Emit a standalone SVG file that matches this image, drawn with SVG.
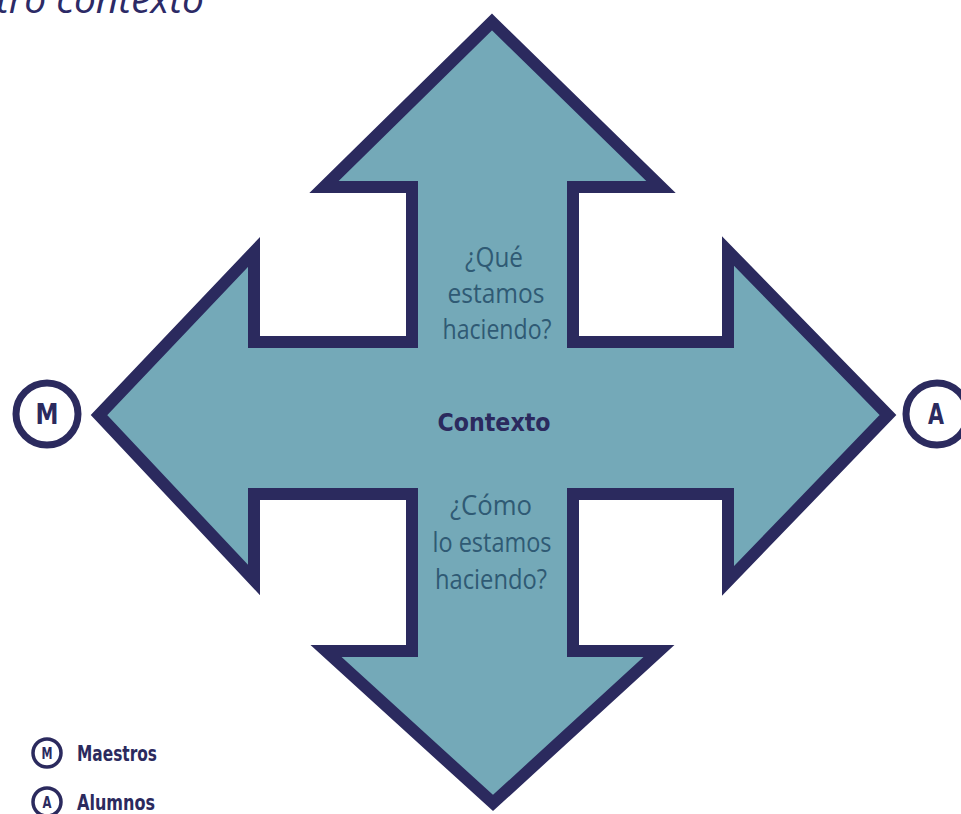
<svg xmlns="http://www.w3.org/2000/svg" width="961" height="814" viewBox="0 0 961 814">
<style>
.arrow{fill:#74a9b8;stroke:#2b2a5e;stroke-width:12;stroke-linejoin:miter;stroke-miterlimit:10}
.q{font-family:"Open Sans","Noto Sans",sans-serif;font-size:27px;fill:#2f5a74;text-anchor:middle}
.b{font-family:"DejaVu Sans Condensed","DejaVu Sans",sans-serif;font-weight:bold;fill:#2b2a5e;text-anchor:middle}
.ring{fill:#ffffff;stroke:#2b2a5e}
.leg{font-family:"DejaVu Sans Condensed","DejaVu Sans",sans-serif;font-weight:bold;fill:#2b2a5e;font-size:21px}
</style>
<rect width="961" height="814" fill="#ffffff"/>
<text id="title" x="-4" y="13" font-family="'Open Sans','Noto Sans',sans-serif" font-style="italic" font-size="38" fill="#2c2a66" textLength="208" lengthAdjust="spacingAndGlyphs">tro contexto</text>
<g id="connectors"></g>
<g id="cross">
<polygon class="arrow" points="492,22 661,187 573,187 573,342 728,342 728,251 888,415 728,581 728,494 573,494 573,651 659,651 493,803 326,651 412,651 412,494 254,494 254,580 99,415 254,252 254,342 412,342 412,187 324,187"/>
</g>
<g id="top-label">
<text class="q" x="494" y="267" textLength="58" lengthAdjust="spacingAndGlyphs">¿Qué</text>
<text class="q" x="496" y="303" textLength="97" lengthAdjust="spacingAndGlyphs">estamos</text>
<text class="q" x="497" y="339" textLength="109" lengthAdjust="spacingAndGlyphs">haciendo?</text>
</g>
<g id="center-label">
<text class="b" x="494" y="431" font-size="24" textLength="113" lengthAdjust="spacingAndGlyphs">Contexto</text>
</g>
<g id="bottom-label">
<text class="q" x="491" y="515" textLength="82" lengthAdjust="spacingAndGlyphs">¿Cómo</text>
<text class="q" x="492" y="552" textLength="119" lengthAdjust="spacingAndGlyphs">lo estamos</text>
<text class="q" x="491" y="589" textLength="112" lengthAdjust="spacingAndGlyphs">haciendo?</text>
</g>
<g id="node-M">
<circle class="ring" cx="47" cy="414" r="31" stroke-width="7"/>
<text class="b" x="47" y="424" font-size="29" textLength="23" lengthAdjust="spacingAndGlyphs">M</text>
</g>
<g id="node-A">
<circle class="ring" cx="937" cy="414" r="31" stroke-width="7"/>
<text class="b" x="936" y="424" font-size="29" textLength="16" lengthAdjust="spacingAndGlyphs">A</text>
</g>
<g id="legend-M">
<circle class="ring" cx="47" cy="753" r="14" stroke-width="3.5"/>
<text class="b" x="47" y="759" font-size="15" textLength="11" lengthAdjust="spacingAndGlyphs">M</text>
<text class="leg" x="77" y="761" textLength="80" lengthAdjust="spacingAndGlyphs">Maestros</text>
</g>
<g id="legend-A">
<circle class="ring" cx="47" cy="802" r="14" stroke-width="3.5"/>
<text class="b" x="47" y="808" font-size="15" textLength="9" lengthAdjust="spacingAndGlyphs">A</text>
<text class="leg" x="77" y="810" textLength="78" lengthAdjust="spacingAndGlyphs">Alumnos</text>
</g>
</svg>
